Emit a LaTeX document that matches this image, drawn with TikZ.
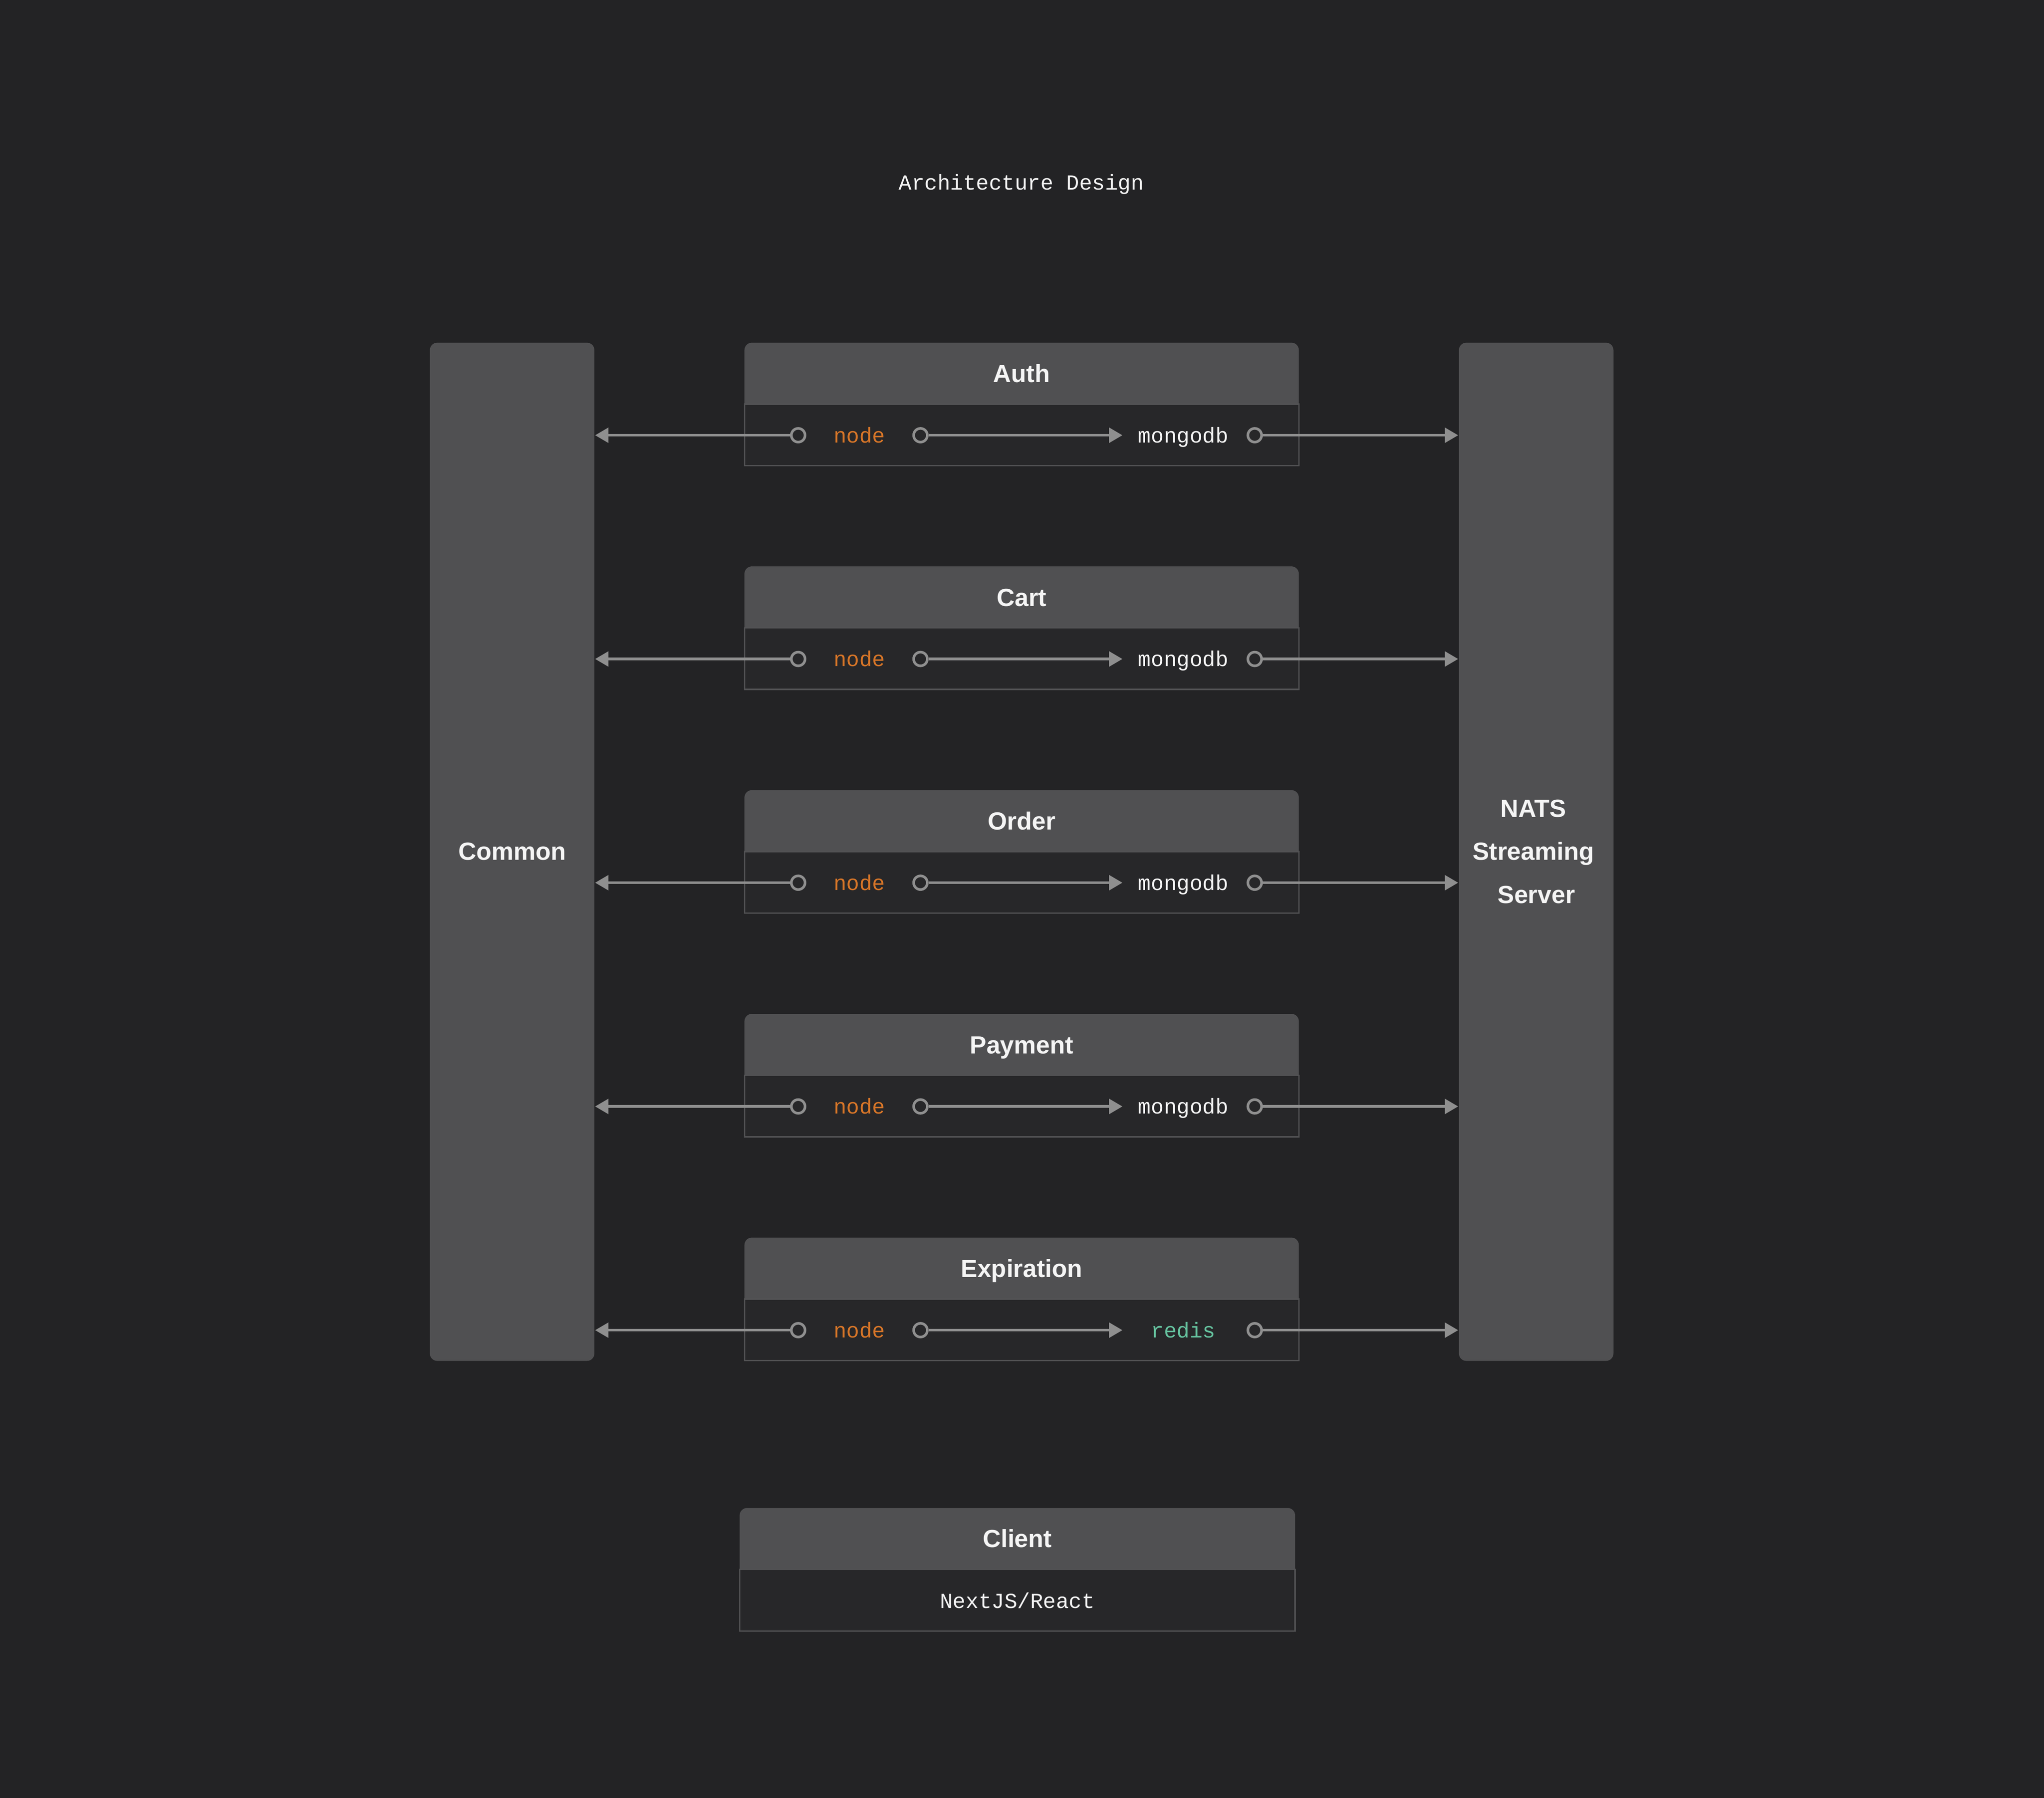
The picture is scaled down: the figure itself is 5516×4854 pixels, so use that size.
\documentclass[tikz,border=0pt]{standalone}
\usepackage{fontspec}
\setmainfont{Liberation Sans}
\newfontfamily\monof{Liberation Mono}
\usetikzlibrary{arrows.meta}
\definecolor{bgc}{RGB}{35,35,37}
\definecolor{hdrc}{RGB}{80,80,82}
\definecolor{bodyc}{RGB}{39,39,41}
\definecolor{edgec}{RGB}{82,82,84}
\definecolor{linec}{RGB}{143,143,143}
\definecolor{orangec}{RGB}{216,118,40}
\definecolor{greenc}{RGB}{102,196,160}
\definecolor{txtc}{RGB}{245,245,245}
\begin{document}
\begin{tikzpicture}[x=0.1pt,y=-0.1pt,
  bigbox/.style={fill=hdrc, rounded corners=2pt, inner sep=0pt},
  bigtxt/.style={text=txtc, font=\bfseries\fontsize{6.7}{11.6}\selectfont, inner sep=0pt, anchor=base},
  hdrbox/.style={fill=hdrc, rounded corners=2pt, minimum width=149.6pt, minimum height=18.6pt, inner sep=0pt},
  bodybox/.style={fill=bodyc, draw=edgec, line width=0.35pt, minimum width=149.6pt, minimum height=16.6pt, inner sep=0pt},
  monotxt/.style={font=\monof\fontsize{5.8}{7}\selectfont, inner sep=0pt, anchor=base},
  port/.style={circle, draw=linec, line width=0.7pt, fill=bodyc, minimum size=3.7pt, inner sep=0pt},
  conn/.style={draw=linec, line width=0.7pt, -{Triangle[length=3.6pt,width=4pt]}}
]
\fill[bgc] (0,0) rectangle (5516,4854);
\useasboundingbox (0,0) rectangle (5516,4854);

\node[monotxt, text=txtc] (title) at (2756,512) {Architecture Design};

\node[bigbox, minimum width=44.4pt, minimum height=274.9pt] (common) at (1382,2299.5) {};
\node[bigtxt] (commontxt) at (1382,2322) {Common};
\node[bigbox, minimum width=41.7pt, minimum height=274.9pt] (nats) at (4145.5,2299.5) {};
\node[bigtxt] (nats1) at (4138,2206) {NATS};
\node[bigtxt] (nats2) at (4138,2322) {Streaming};
\node[bigtxt] (nats3) at (4146,2438) {Server};

\foreach \i/\name/\db/\dbc in {0/Auth/mongodb/txtc,1/Cart/mongodb/txtc,2/Order/mongodb/txtc,3/Payment/mongodb/txtc,4/Expiration/redis/greenc}{
  \pgfmathsetmacro\t{925+604*\i}
  \node[hdrbox] (hdr\i) at (2757,{\t+93}) {};
  \node[bodybox] (body\i) at (2757,{\t+249}) {};
  \node[bigtxt] (name\i) at (2757,{\t+107}) {\name};
  \node[monotxt, text=orangec] (nd\i) at (2319,{\t+270}) {node};
  \node[monotxt, text=\dbc] (db\i) at (3193,{\t+270}) {\db};
  \node[port] (pa\i) at (2154,{\t+250}) {};
  \node[port] (pb\i) at (2484,{\t+250}) {};
  \node[port] (pc\i) at (3386,{\t+250}) {};
  \coordinate (tip\i) at (3029,{\t+250});
  \draw[conn] (pa\i) -- (pa\i -| common.east);
  \draw[conn] (pb\i) -- (tip\i);
  \draw[conn] (pc\i) -- (pc\i -| nats.west);
}

\node[hdrbox, minimum width=149.9pt] (clienthdr) at (2745.5,{4071+93}) {};
\node[bodybox, minimum width=149.9pt] (clientbody) at (2745.5,4320) {};
\node[bigtxt] (clienttxt) at (2745.5,4177) {Client};
\node[monotxt, text=txtc] (clientsub) at (2745.5,4341) {NextJS/React};
\end{tikzpicture}
\end{document}
